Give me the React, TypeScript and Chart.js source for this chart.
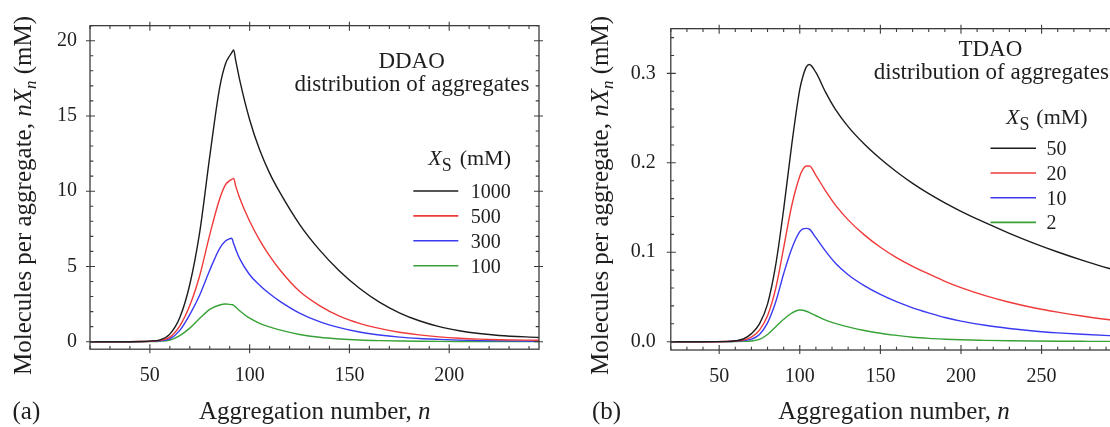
import React, { useEffect, useRef } from "react";
import { Chart, registerables } from "chart.js";

Chart.register(...registerables);

const FONT = '"Liberation Serif", "Times New Roman", serif';

// ---------------- Panel (a): DDAO ----------------
const nA = [20, 30, 40, 45, 50, 55, 60, 65, 70, 75, 80, 85, 88, 90, 91, 92, 93, 95, 100, 105, 110, 115, 125, 135, 145, 155, 165, 175, 185, 195, 205, 215, 225, 245];
const ddao1000 = [0, 0, 0, 0.01, 0.04, 0.12, 0.5, 1.6, 3.8, 7.3, 12.3, 16.9, 18.5, 19.0, 19.2, 19.38, 18.7, 17.4, 14.75, 12.75, 11.2, 9.95, 7.8, 6.1, 4.7, 3.55, 2.63, 1.92, 1.39, 1.0, 0.73, 0.54, 0.41, 0.28];
const ddao500 = [0, 0, 0, 0.01, 0.03, 0.09, 0.3, 1.05, 2.4, 4.4, 7.1, 9.5, 10.45, 10.7, 10.78, 10.85, 10.35, 9.55, 8.0, 6.75, 5.7, 4.8, 3.35, 2.4, 1.7, 1.22, 0.88, 0.63, 0.45, 0.32, 0.23, 0.17, 0.13, 0.09];
const ddao300 = [0, 0, 0, 0.005, 0.02, 0.06, 0.18, 0.75, 1.8, 3.1, 4.75, 6.2, 6.7, 6.84, 6.87, 6.5, 6.15, 5.52, 4.45, 3.75, 3.18, 2.7, 1.9, 1.33, 0.93, 0.64, 0.44, 0.3, 0.21, 0.15, 0.1, 0.07, 0.05, 0.03];
const ddao100 = [0, 0, 0, 0, 0.01, 0.03, 0.11, 0.4, 0.9, 1.55, 2.15, 2.44, 2.5, 2.48, 2.46, 2.42, 2.3, 2.06, 1.56, 1.22, 0.98, 0.78, 0.48, 0.29, 0.18, 0.11, 0.07, 0.045, 0.03, 0.02, 0.014, 0.01, 0.007, 0.004];
const ddaoLabels = ["1000", "500", "300", "100"];
const ticksAX = [50, 100, 150, 200];
const ticksAY = [0, 5, 10, 15, 20];

// ---------------- Panel (b): TDAO ----------------
const nB = [20, 40, 55, 60, 65, 70, 75, 80, 85, 90, 95, 100, 102, 104, 106, 110, 116, 122, 130, 140, 150, 160, 170, 180, 190, 200, 215, 230, 245, 260, 275, 292, 300];
const tdao50 = [0, 0, 0.0003, 0.001, 0.003, 0.009, 0.02, 0.042, 0.085, 0.148, 0.22, 0.282, 0.297, 0.307, 0.31, 0.301, 0.279, 0.26, 0.2405, 0.221, 0.2045, 0.19, 0.177, 0.1655, 0.1552, 0.1458, 0.133, 0.1212, 0.1103, 0.1003, 0.0912, 0.0818, 0.078];
const tdao20 = [0, 0, 0.0002, 0.0007, 0.0017, 0.005, 0.013, 0.029, 0.059, 0.105, 0.152, 0.185, 0.193, 0.1965, 0.1965, 0.186, 0.1686, 0.153, 0.1362, 0.1194, 0.1056, 0.0941, 0.0843, 0.0757, 0.0675, 0.0605, 0.0515, 0.0441, 0.038, 0.033, 0.0287, 0.0245, 0.0228];
const tdao10 = [0, 0, 0.0001, 0.0005, 0.0012, 0.0028, 0.008, 0.021, 0.044, 0.076, 0.104, 0.123, 0.1262, 0.1267, 0.1258, 0.1163, 0.1012, 0.088, 0.0749, 0.0627, 0.0528, 0.0447, 0.0379, 0.0322, 0.027, 0.023, 0.0183, 0.0148, 0.012, 0.0099, 0.0083, 0.0068, 0.0062];
const tdao2 = [0, 0, 0, 0.0001, 0.0003, 0.0008, 0.0025, 0.008, 0.0165, 0.025, 0.032, 0.0354, 0.0352, 0.034, 0.0325, 0.029, 0.024, 0.0205, 0.0165, 0.0125, 0.0095, 0.007, 0.005, 0.0037, 0.0028, 0.0021, 0.0015, 0.001, 0.0007, 0.0005, 0.0004, 0.0003, 0.0003];
const tdaoLabels = ["50", "20", "10", "2"];
const ticksBX = [50, 100, 150, 200, 250];
const ticksBY = [0, 0.1, 0.2, 0.3];

const COLORS = ["#1c1c1c", "#f03a3a", "#3a3af2", "#38a238"];

type Part = { t: string; italic?: boolean; size?: number; dy?: number };

const yTitleParts: Part[] = [
  { t: "Molecules per aggregate, " },
  { t: "nX", italic: true },
  { t: "n", italic: true, size: 17, dy: 5 },
  { t: " (mM)" },
];
const xTitleParts: Part[] = [{ t: "Aggregation number, " }, { t: "n", italic: true }];
const headParts: Part[] = [{ t: "X", italic: true }, { t: "S", size: 18, dy: 6 }];

type PanelCfg = {
  left: number; width: number; padTop: number; padRight: number; yAxisW: number; xAxisH: number;
  xMin: number; xMax: number; yMin: number; yMax: number;
  n: number[]; series: number[][]; labels: string[];
  xTicks: number[]; yTicks: number[]; xMinor: number; yMinor: number; yDecimals: number;
  yPad: number; xPad: number;
  tag: string; tagX: number; xTitleX: number; bottomY: number;
  yTitleX: number; yTitleY: number;
  name: string; nameX: number; nameY: number; distX: number; distY: number;
  headX: number; headR: number; headY: number;
  legX1: number; legX2: number; legY: number; legDy: number; legLabX: number;
};

const panelA: PanelCfg = {
  left: 0, width: 555, padTop: 25.65, padRight: 16, yAxisW: 90, xAxisH: 77.8,
  xMin: 20, xMax: 245, yMin: -0.5, yMax: 21,
  n: nA, series: [ddao1000, ddao500, ddao300, ddao100], labels: ddaoLabels,
  xTicks: ticksAX, yTicks: ticksAY, xMinor: 10, yMinor: 1, yDecimals: 0,
  yPad: 13, xPad: 15,
  tag: "(a)", tagX: 12.5, xTitleX: 314.8, bottomY: 419,
  yTitleX: 31, yTitleY: 195.5,
  name: "DDAO", nameX: 411.6, nameY: 68, distX: 412, distY: 90.5,
  headX: 428.3, headR: 511, headY: 165,
  legX1: 413.3, legX2: 458.3, legY: 191, legDy: 24.9, legLabX: 470.7,
};

const panelB: PanelCfg = {
  left: 555, width: 570, padTop: 28.66, padRight: 2.8, yAxisW: 115.8, xAxisH: 77,
  xMin: 20, xMax: 300, yMin: -0.0093, yMax: 0.35,
  n: nB, series: [tdao50, tdao20, tdao10, tdao2], labels: tdaoLabels,
  xTicks: ticksBX, yTicks: ticksBY, xMinor: 10, yMinor: 0.02, yDecimals: 1,
  yPad: 15, xPad: 15,
  tag: "(b)", tagX: 37, xTitleX: 339, bottomY: 419,
  yTitleX: 52.8, yTitleY: 195.5,
  name: "TDAO", nameX: 435.4, nameY: 56, distX: 436.3, distY: 79,
  headX: 451, headR: 532.7, headY: 123.5,
  legX1: 435.5, legX2: 481, legY: 148.3, legDy: 24.7, legLabX: 491.5,
};

function partFont(p: Part, size: number) {
  return `${p.italic ? "italic " : ""}${p.size ?? size}px ${FONT}`;
}

function drawParts(ctx: CanvasRenderingContext2D, parts: Part[], x: number, y: number, size: number, align: string) {
  let w = 0;
  for (const p of parts) {
    ctx.font = partFont(p, size);
    w += ctx.measureText(p.t).width;
  }
  let cx = align === "center" ? x - w / 2 : align === "right" ? x - w : x;
  ctx.textAlign = "left";
  ctx.textBaseline = "alphabetic";
  for (const p of parts) {
    ctx.font = partFont(p, size);
    ctx.fillText(p.t, cx, y + (p.dy ?? 0));
    cx += ctx.measureText(p.t).width;
  }
}

function stepsBetween(min: number, max: number, step: number) {
  const out: number[] = [];
  const start = Math.ceil(min / step - 1e-9);
  for (let k = start; k * step <= max + 1e-9; k++) out.push(Math.round(k * step * 1e6) / 1e6);
  return out;
}

function drawDecor(chart: any, cfg: PanelCfg) {
  const ctx: CanvasRenderingContext2D = chart.ctx;
  const { left, right, top, bottom } = chart.chartArea;
  const xs = chart.scales.x;
  const ys = chart.scales.y;
  ctx.save();
  ctx.strokeStyle = "#3c3c3c";
  ctx.lineWidth = 1.3;
  ctx.strokeRect(left, top, right - left, bottom - top);

  const majIn = 5, majOut = 4, minIn = 3.3;
  ctx.lineWidth = 1.1;
  ctx.beginPath();
  for (const v of stepsBetween(cfg.xMin, cfg.xMax, cfg.xMinor)) {
    const px = xs.getPixelForValue(v);
    const major = cfg.xTicks.includes(v) || v % 50 === 0;
    ctx.moveTo(px, bottom + (major ? majOut : 0));
    ctx.lineTo(px, bottom - (major ? majIn : minIn));
    ctx.moveTo(px, top - (major ? majOut : 0));
    ctx.lineTo(px, top + (major ? majIn : minIn));
  }
  for (const v of stepsBetween(0, cfg.yMax, cfg.yMinor)) {
    const py = ys.getPixelForValue(v);
    const major = cfg.yTicks.some((t) => Math.abs(t - v) < 1e-9);
    ctx.moveTo(left - (major ? majOut : 0), py);
    ctx.lineTo(left + (major ? majIn : minIn), py);
    ctx.moveTo(right + (major ? majOut : 0), py);
    ctx.lineTo(right - (major ? majIn : minIn), py);
  }
  ctx.stroke();

  ctx.fillStyle = "#1e1e1e";
  drawParts(ctx, [{ t: cfg.tag }], cfg.tagX, cfg.bottomY, 25, "left");
  drawParts(ctx, xTitleParts, cfg.xTitleX, cfg.bottomY, 25, "center");
  ctx.save();
  ctx.translate(cfg.yTitleX, cfg.yTitleY);
  ctx.rotate(-Math.PI / 2);
  drawParts(ctx, yTitleParts, 0, 0, 25, "center");
  ctx.restore();

  drawParts(ctx, [{ t: cfg.name }], cfg.nameX, cfg.nameY, 23, "center");
  drawParts(ctx, [{ t: "distribution of aggregates" }], cfg.distX, cfg.distY, 23, "center");
  drawParts(ctx, headParts, cfg.headX, cfg.headY, 22, "left");
  drawParts(ctx, [{ t: "(mM)" }], cfg.headR, cfg.headY, 22, "right");

  chart.data.datasets.forEach((ds: any, i: number) => {
    const ly = cfg.legY + i * cfg.legDy;
    ctx.strokeStyle = ds.borderColor;
    ctx.lineWidth = 1.6;
    ctx.beginPath();
    ctx.moveTo(cfg.legX1, ly);
    ctx.lineTo(cfg.legX2, ly);
    ctx.stroke();
    ctx.fillStyle = "#1e1e1e";
    drawParts(ctx, [{ t: ds.label }], cfg.legLabX, ly + 7, 20, "left");
  });
  ctx.restore();
}

function Panel({ cfg }: { cfg: PanelCfg }) {
  const ref = useRef<HTMLCanvasElement>(null);
  useEffect(() => {
    const canvas = ref.current;
    if (!canvas) return;
    const decor = { id: "decor" + cfg.tag, afterDraw: (chart: any) => drawDecor(chart, cfg) };
    const chart = new Chart(canvas, {
      type: "line",
      data: {
        datasets: cfg.series.map((vals, i) => ({
          label: cfg.labels[i],
          data: cfg.n.map((x, j) => ({ x, y: vals[j] })),
          borderColor: COLORS[i],
          backgroundColor: COLORS[i],
          borderWidth: 1.4,
          pointRadius: 0,
          fill: false,
          cubicInterpolationMode: "monotone",
        })),
      },
      options: {
        responsive: false,
        animation: false,
        devicePixelRatio: 1,
        events: [],
        layout: { padding: { left: 0, top: cfg.padTop, right: cfg.padRight, bottom: 0 } },
        plugins: { legend: { display: false }, tooltip: { enabled: false }, title: { display: false } },
        scales: {
          x: {
            type: "linear",
            min: cfg.xMin,
            max: cfg.xMax,
            bounds: "data",
            afterFit: (s: any) => { s.height = cfg.xAxisH; },
            afterBuildTicks: (s: any) => { s.ticks = cfg.xTicks.map((v) => ({ value: v })); },
            grid: { display: false, drawTicks: false },
            border: { display: false },
            ticks: {
              autoSkip: false, maxRotation: 0, minRotation: 0, padding: cfg.xPad, color: "#1e1e1e",
              font: { family: FONT, size: 20 },
              callback: (v: any) => String(v),
            },
          },
          y: {
            type: "linear",
            min: cfg.yMin,
            max: cfg.yMax,
            bounds: "data",
            afterFit: (s: any) => { s.width = cfg.yAxisW; },
            afterBuildTicks: (s: any) => { s.ticks = cfg.yTicks.map((v) => ({ value: v })); },
            grid: { display: false, drawTicks: false },
            border: { display: false },
            ticks: {
              autoSkip: false, padding: cfg.yPad, color: "#1e1e1e",
              font: { family: FONT, size: 20 },
              callback: (v: any) => Number(v).toFixed(cfg.yDecimals),
            },
          },
        },
      },
      plugins: [decor],
    } as any);
    return () => chart.destroy();
  }, [cfg]);
  return (
    <canvas
      ref={ref}
      width={cfg.width}
      height={427}
      style={{ position: "absolute", left: cfg.left, top: 0, width: cfg.width, height: 427 }}
    />
  );
}

export default function App() {
  return (
    <div style={{ position: "fixed", left: 0, top: 0, width: 1110, height: 427, overflow: "hidden", background: "#ffffff" }}>
      <Panel cfg={panelA} />
      <Panel cfg={panelB} />
    </div>
  );
}
